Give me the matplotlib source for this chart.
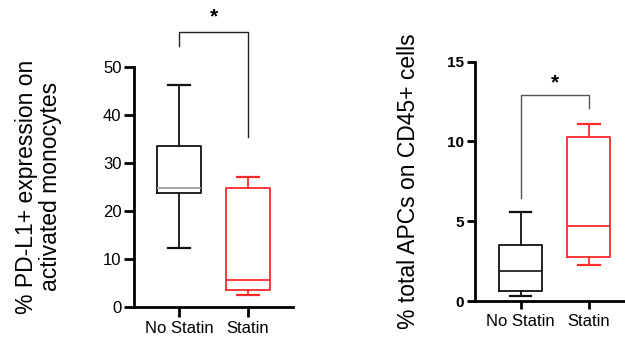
import matplotlib
matplotlib.use("Agg")
import matplotlib.pyplot as plt

plt.rcParams['font.family'] = ['Liberation Sans', 'DejaVu Sans']

groups = ["No Statin", "Statin"]
colors = ["#111111", "#ff2b2b"]
median_colors = ["#a0a0a0", "#ff2b2b"]

# PD-L1+ on activated monocytes (%): whisker low, Q1, median, Q3, whisker high
pdl1_low = [12.2, 2.4]
pdl1_q1 = [23.75, 3.5]
pdl1_med = [24.8, 5.6]
pdl1_q3 = [33.5, 24.8]
pdl1_high = [46.1, 27.1]

# Total APCs on CD45+ cells (%)
apc_low = [0.31, 2.27]
apc_q1 = [0.65, 2.74]
apc_med = [1.88, 4.68]
apc_q3 = [3.5, 10.3]
apc_high = [5.56, 11.1]
apc_median_colors = ["#222222", "#ff2b2b"]


def stats(low, q1, med, q3, high):
    return [dict(whislo=a, q1=b, med=c, q3=d, whishi=e, fliers=[])
            for a, b, c, d, e in zip(low, q1, med, q3, high)]


def draw(ax, st, meds, ytick_size, tick_len):
    for i, s in enumerate(st):
        c = colors[i]
        ax.bxp([s], positions=[i], widths=0.64, showfliers=False,
               boxprops=dict(color=c, lw=1.3),
               whiskerprops=dict(color=c, lw=1.3),
               capprops=dict(color=c, lw=1.6),
               medianprops=dict(color=meds[i], lw=1.3),
               capwidths=0.32, manage_ticks=False)
    for side in ("top", "right"):
        ax.spines[side].set_visible(False)
    for side in ("left", "bottom"):
        ax.spines[side].set_linewidth(2)
    ax.tick_params(width=2, length=tick_len)
    ax.tick_params(axis="y", labelsize=ytick_size, pad=2)
    ax.tick_params(axis="x", labelsize=12, pad=3)
    ax.set_xticks(range(len(groups)))
    ax.set_xticklabels(groups)


fig = plt.figure(figsize=(6.25, 3.4), dpi=100)

ax1 = fig.add_axes([0.2144, 0.098, 0.2544, 0.706])
draw(ax1, stats(pdl1_low, pdl1_q1, pdl1_med, pdl1_q3, pdl1_high), median_colors, 12, 7)
ax1.set_ylim(0, 50)
ax1.set_xlim(-0.652, 1.652)
ax1.set_yticks([0, 10, 20, 30, 40, 50])
ax1.set_ylabel("% PD-L1+ expression on\nactivated monocytes", fontsize=16.5,
               linespacing=1.1)
ax1.yaxis.set_label_coords(-0.45, 0.5)
ax1.plot([0, 0, 1, 1], [54.3, 57.2, 57.2, 35.4], color="#222222", lw=1, clip_on=False)
ax1.text(0.5, 58.3, "*", ha="center", va="bottom", fontsize=15, fontweight="bold")

ax2 = fig.add_axes([0.760, 0.1147, 0.245, 0.704])
draw(ax2, stats(apc_low, apc_q1, apc_med, apc_q3, apc_high), apc_median_colors, 11, 6)
ax2.set_ylim(0, 15)
ax2.set_xlim(-0.67, 1.58)
ax2.set_yticks([0, 5, 10, 15])
for lab in ax2.get_yticklabels():
    lab.set_fontweight("bold")
ax2.set_ylabel("% total APCs on CD45+ cells", fontsize=16.5)
ax2.yaxis.set_label_coords(-0.36, 0.5)
ax2.plot([0, 0, 1, 1], [6.43, 12.9, 12.9, 12.07], color="#555555", lw=1, clip_on=False)
ax2.text(0.5, 13.05, "*", ha="center", va="bottom", fontsize=15, fontweight="bold")

fig.savefig("out.png", dpi=100)
